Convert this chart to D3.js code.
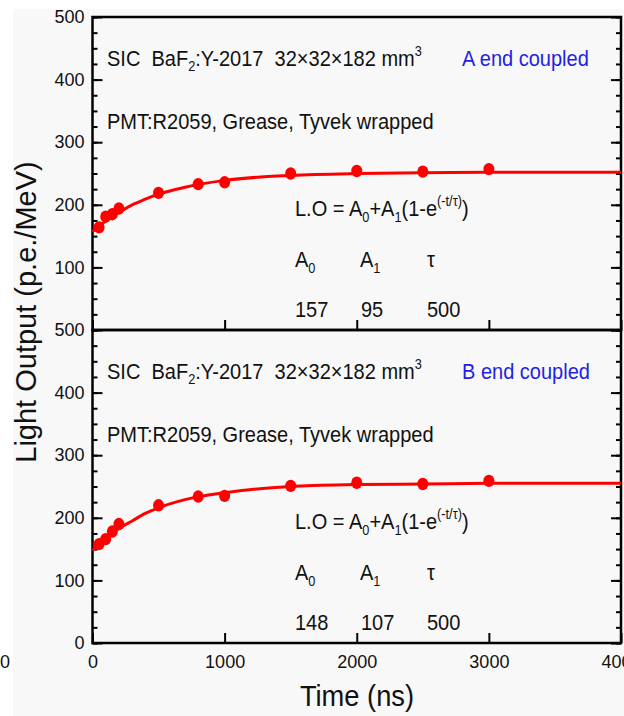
<!DOCTYPE html>
<html>
<head>
<meta charset="utf-8">
<script src="https://cdn.jsdelivr.net/npm/d3@7"></script>
<style>
  body { margin: 0; background: #fff; }
  text { font-family: "Liberation Sans", Arial, sans-serif; white-space: pre; }
</style>
</head>
<body>
<div id="main"></div>
<script>
// measured points (ns, p.e./MeV)
let times = [50, 100, 150, 200, 500, 800, 1000, 1500, 2000, 2500, 3000];
let lightA = [164, 181, 185, 194, 219, 233, 236, 250, 254, 253, 257];
let lightB = [158, 166, 178, 190, 220, 234, 235, 251, 256, 254, 259];

// fit curve
let fitTimes = [0, 100, 200, 300, 400, 500, 700, 1000, 1500, 2000, 2500, 3000, 4000];
let fitA = [157, 174, 188, 200, 209, 217, 228, 239, 247, 250, 251, 252, 252];
let fitB = [148, 167, 183, 195, 207, 216, 229, 240, 250, 253, 254, 255, 255];

let xTicks = [0, 1000, 2000, 3000, 4000];
let yTicks = [0, 100, 200, 300, 400, 500];
let yMinor = d3.range(0, 501, 25);

let panels = [
  {pts: lightA, fit: fitA, top: 17, bottom: 330, end: "A end coupled", a0: "157", a1: "95", tau: "500", showZero: false},
  {pts: lightB, fit: fitB, top: 330, bottom: 643, end: "B end coupled", a0: "148", a1: "107", tau: "500", showZero: true}
];

let width = 624, height = 716;
let left = 92.5, right = 621;
let squeeze = 0.91;

let svg = d3.select("#main")
    .append("svg")
    .attr("width", width)
    .attr("height", height);

svg.append("rect")
    .attr("x", 13).attr("y", 9)
    .attr("width", width).attr("height", height)
    .attr("fill", "#f8f8f8");

var xScale = d3.scaleLinear().domain([0, 4000]).range([left, right]);

// text squeezed a little sideways, like the source image
function label(g, x, y, size, color) {
    return g.append("g")
        .attr("transform", `translate(${x},${y}) scale(${squeeze},1)`)
        .append("text")
        .style("font-size", size + "px")
        .attr("fill", color || "#111");
}

panels.forEach(p => {
    let yScale = d3.scaleLinear().domain([0, 500]).range([p.bottom, p.top]);
    let g = svg.append("g");

    // minor ticks
    g.append("g")
        .attr("transform", `translate(${left},0)`)
        .call(d3.axisLeft(yScale).tickValues(yMinor).tickSize(-5).tickFormat(""))
        .call(a => a.select(".domain").remove());
    g.append("g")
        .attr("transform", `translate(${right},0)`)
        .call(d3.axisRight(yScale).tickValues(yMinor).tickSize(-5).tickFormat(""))
        .call(a => a.select(".domain").remove());

    // major ticks + labels
    g.append("g")
        .attr("transform", `translate(${left},0)`)
        .call(d3.axisLeft(yScale).tickValues(p.showZero ? yTicks : yTicks.slice(1)).tickSize(-10).tickPadding(8))
        .call(a => a.select(".domain").remove());
    g.append("g")
        .attr("transform", `translate(${right},0)`)
        .call(d3.axisRight(yScale).tickValues(yTicks).tickSize(-10).tickFormat(""))
        .call(a => a.select(".domain").remove());

    let xa = d3.axisBottom(xScale).tickValues(xTicks).tickSize(-10).tickPadding(12)
        .tickFormat(p.showZero ? d3.format("d") : "");
    g.append("g")
        .attr("transform", `translate(0,${p.bottom})`)
        .call(xa)
        .call(a => a.select(".domain").remove());

    g.selectAll(".tick line").attr("stroke", "#000").attr("stroke-width", 2);
    g.selectAll(".tick text").attr("fill", "#111").style("font-size", "18px");

    // frame
    g.append("rect")
        .attr("x", left).attr("y", p.top)
        .attr("width", right - left).attr("height", p.bottom - p.top)
        .attr("fill", "none")
        .attr("stroke", "#000")
        .attr("stroke-width", 2.5);

    // fit line
    let line = d3.line()
        .x((d, i) => xScale(fitTimes[i]))
        .y(d => yScale(d))
        .curve(d3.curveMonotoneX);
    g.append("path")
        .datum(p.fit)
        .attr("d", line)
        .attr("fill", "none")
        .attr("stroke", "#ff0000")
        .attr("stroke-width", 3);

    g.selectAll("ellipse").data(p.pts).enter()
        .append("ellipse")
        .attr("cx", (d, i) => xScale(times[i]))
        .attr("cy", d => yScale(d))
        .attr("rx", 5.5)
        .attr("ry", 6.2)
        .attr("fill", "#ff0000");

    // annotations
    let t1 = label(g, 107, p.top + 49, 22);
    t1.append("tspan").text("SIC  BaF");
    t1.append("tspan").text("2").style("font-size", "14px").attr("dy", 5);
    t1.append("tspan").text(":Y-2017  32×32×182 mm").attr("dy", -5);
    t1.append("tspan").text("3").style("font-size", "14px").attr("dy", -10);

    label(g, 462, p.top + 49, 22, "#1f1fe6").text(p.end);

    label(g, 107, p.top + 112, 22).text("PMT:R2059, Grease, Tyvek wrapped");

    let f = label(g, 295, p.top + 199, 22);
    f.append("tspan").text("L.O = A");
    f.append("tspan").text("0").style("font-size", "14px").attr("dy", 6);
    f.append("tspan").text("+A").attr("dy", -6);
    f.append("tspan").text("1").style("font-size", "14px").attr("dy", 6);
    f.append("tspan").text("(1-e").attr("dy", -6);
    f.append("tspan").text("(-t/τ)").style("font-size", "14px").attr("dy", -10);
    f.append("tspan").text(")").attr("dy", 10);

    let names = [["A", "0", 295], ["A", "1", 360], ["τ", "", 427]];
    names.forEach(n => {
        let t = label(g, n[2], p.top + 250, 22);
        t.append("tspan").text(n[0]);
        if (n[1]) t.append("tspan").text(n[1]).style("font-size", "14px").attr("dy", 6);
    });

    [[p.a0, 295], [p.a1, 361], [p.tau, 427]].forEach(v => {
        label(g, v[1], p.top + 300, 22).text(v[0]);
    });
});

// axis titles
svg.append("text")
    .attr("transform", "translate(36,312) rotate(-90)")
    .attr("text-anchor", "middle")
    .style("font-size", "29px")
    .attr("fill", "#111")
    .text("Light Output (p.e./MeV)");

svg.append("g")
    .attr("transform", `translate(357,706) scale(${squeeze},1)`)
    .append("text")
    .attr("text-anchor", "middle")
    .style("font-size", "30px")
    .attr("fill", "#111")
    .text("Time (ns)");

// stray label from the neighbouring figure
svg.append("text")
    .attr("x", 0).attr("y", 668)
    .style("font-size", "18px")
    .attr("fill", "#111")
    .text("0");
</script>
</body>
</html>
